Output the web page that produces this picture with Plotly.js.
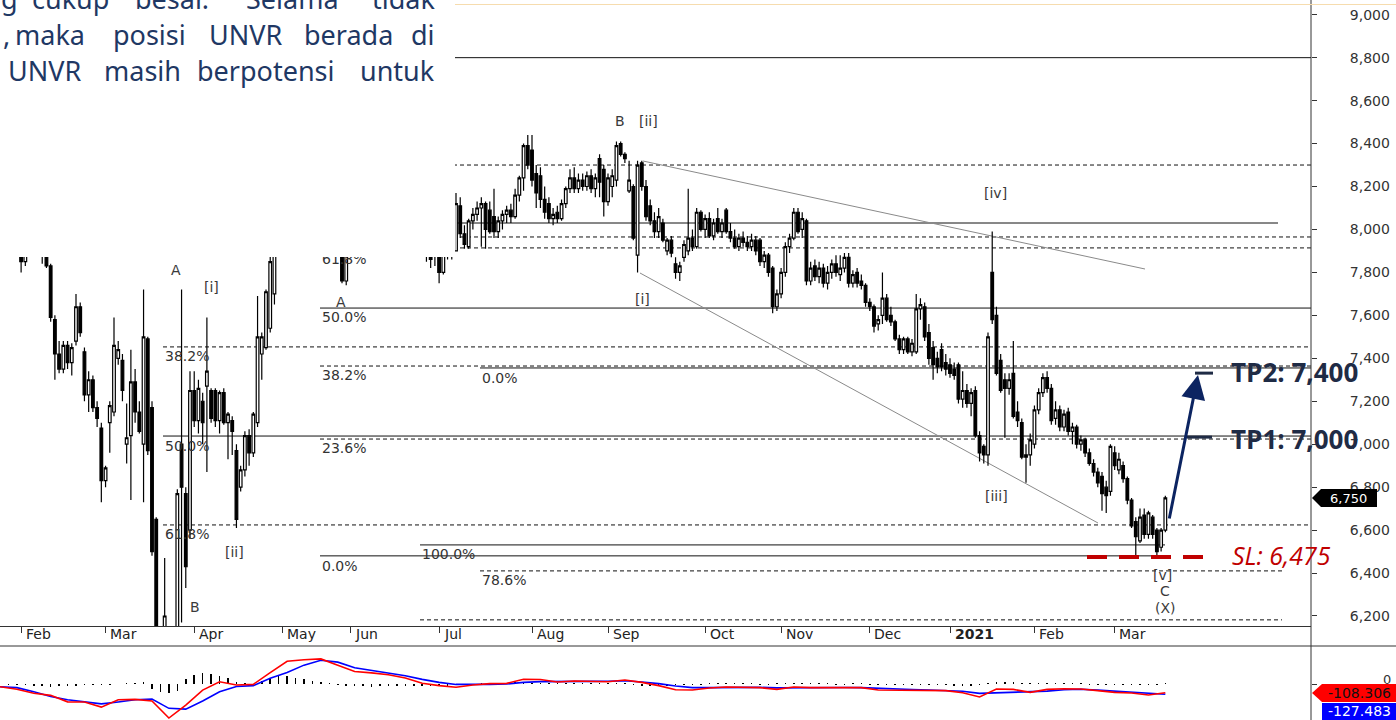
<!DOCTYPE html>
<html><head><meta charset="utf-8">
<script src="https://cdn.plot.ly/plotly-3.0.1.min.js"></script>
<style>html,body{margin:0;padding:0;background:#fff;overflow:hidden}#chart{width:1396px;height:720px}</style>
</head><body><div id="chart"></div>
<script>
// ---------------- DATA ----------------
// daily candles, late Jan 2020 .. mid Mar 2021 (trading-day index order)
const openP = [
 8050,8020,7980,8000,7950,
 7920,7850,7900,7980,7960,7920,7880,7830,7580,7420,7350,7460,7380,7480,7640,7430,7230,7300,7170,7075,
 6830,7100,7150,7400,7390,7000,7040,7290,7150,7000,7490,7170,6650,6000,5950,6100,5950,6000,7000,6770,6600,
 7250,7110,7200,7270,7250,7250,7110,7240,7100,7110,6970,6800,6880,7040,6960,7100,7420,7450,7540,7700,7900,
 8100,8200,8300,8250,8400,8350,8250,8300,8400,8500,8450,8350,8400,8250,8150,7760,
 7980,8050,8100,8150,8200,8100,8050,8150,8200,8250,8150,8100,8000,8050,8100,8000,7950,7920,7950,7900,7920,
 7880,7800,7880,7920,7900,8110,7980,7920,8040,8070,8100,8120,8090,8060,7990,8040,8070,8090,8060,8160,8240,8390,
 8370,8260,8250,8140,8120,8050,8080,8050,8120,8190,8240,8190,8230,8200,8250,8190,8330,8280,
 8130,8200,8230,8400,8350,8180,8200,7880,8310,8200,8110,8040,7990,8030,7900,7950,7840,7800,7870,7900,7960,7920,8080,
 8000,8050,7970,8050,7990,8090,7990,7960,7920,7960,7940,7920,7950,7950,7850,7880,7820,7640,
 7700,7800,7920,7960,8080,8000,8040,7760,7830,7780,7820,7750,7800,7840,7790,7820,7870,7750,7800,7760,7740,
 7660,7640,7560,7600,7680,7600,7570,7490,7440,7490,7430,7430,7630,7640,7520,7450,7400,7440,7380,
 7370,7350,7370,7210,7250,7190,7250,7040,6990,6950,7800,7600,7390,7300,7260,7330,7150,7100,6940,6950,
 7000,7160,7240,7310,7260,7120,7160,7080,7150,7060,7080,7000,7020,6960,6910,6870,6850,6800,6780,
 6960,6880,6900,6840,6740,6640,6550,6670,6580,6660,6600,6520,6600
];
const highP = [
 8100,8080,8050,8060,8000,
 7960,7930,8000,8050,8000,7940,7900,7840,7600,7480,7480,7480,7470,7700,7660,7450,7340,7320,7200,7100,
 6900,7200,7590,7480,7420,7190,7440,7350,7200,7720,7500,7200,6660,6100,6470,6140,6120,6790,7720,6800,7340,
 7340,7300,7240,7590,7260,7260,7250,7260,7150,7130,7000,6900,7060,7070,7150,7690,7520,7720,7950,8050,8150,
 8250,8350,8400,8450,8500,8400,8350,8450,8550,8600,8500,8450,8450,8300,8200,8000,
 8100,8150,8200,8250,8250,8150,8200,8250,8300,8300,8200,8150,8100,8150,8150,8050,8000,7980,7980,7950,7960,
 7900,7900,7950,7940,8170,8150,8020,8050,8100,8130,8150,8130,8130,8190,8060,8090,8110,8120,8190,8250,8400,8440,
 8440,8300,8290,8200,8150,8100,8110,8140,8200,8280,8290,8260,8260,8270,8280,8260,8350,8300,
 8260,8280,8410,8410,8360,8320,8210,8320,8320,8230,8140,8080,8100,8050,7960,7970,7870,7850,7950,8190,8000,8100,8090,
 8070,8080,8050,8100,8050,8100,8030,8000,7980,7990,7970,7980,7970,7960,7900,7890,7830,7720,
 7820,7940,7980,8100,8100,8080,8050,7850,7860,7850,7840,7830,7860,7880,7880,7890,7890,7810,7820,7790,7750,
 7680,7650,7600,7800,7700,7640,7580,7510,7500,7500,7490,7700,7680,7660,7560,7480,7430,7470,7420,
 7400,7380,7380,7340,7280,7260,7270,7060,7000,7520,7990,7640,7420,7330,7330,7480,7200,7120,7000,7050,
 7180,7260,7330,7340,7280,7200,7180,7160,7170,7100,7090,7040,7030,6980,6930,6890,6870,6830,7000,
 6990,6960,6920,6850,6750,6660,6700,6700,6690,6670,6610,6610,6760
];
const lowP = [
 7980,7950,7920,7930,7890,
 7800,7830,7890,7930,7900,7840,7820,7570,7300,7330,7330,7350,7320,7460,7500,7200,7150,7150,7080,6730,
 6800,6960,7130,7370,7200,6910,6740,7100,7050,6730,6950,6480,5950,5800,5900,5900,5850,5980,6170,6330,6560,
 7080,7050,7000,6870,7100,7080,7050,7090,6930,6950,6610,6780,6850,6900,6940,7080,7300,7440,7520,7650,7880,
 8050,8150,8200,8200,8300,8200,8150,8250,8350,8400,8300,8300,8200,8100,7750,7740,
 7950,7980,8050,8100,8050,8000,8000,8100,8150,8100,8050,7950,7920,8000,7980,7900,7880,7880,7850,7820,7830,
 7750,7790,7860,7860,7900,7960,7910,7910,8000,8040,7920,7910,7980,7960,7960,8000,8030,8030,8050,8130,8180,8280,
 8200,8100,8100,8050,8030,8020,8030,8040,8100,8170,8170,8170,8180,8180,8170,8150,8150,8060,
 8110,8150,8200,8340,8310,8170,7950,7800,8180,8040,8020,7960,7960,7940,7880,7870,7770,7760,7850,7880,7900,7910,7990,
 7960,7960,7950,7980,7960,7980,7940,7910,7900,7920,7900,7900,7880,7830,7820,7780,7610,7620,
 7680,7780,7890,7950,7980,7960,7740,7740,7760,7750,7730,7720,7770,7780,7760,7800,7730,7730,7730,7720,7640,
 7620,7520,7530,7560,7570,7550,7480,7420,7420,7420,7410,7420,7580,7480,7370,7300,7330,7340,7320,
 7310,7300,7190,7170,7170,7130,7030,6920,6910,6900,7560,7320,7240,7030,7230,7120,7080,6930,6820,6900,
 6980,7140,7220,7240,7090,7090,7060,7060,7040,7000,6980,6970,6940,6900,6850,6800,6690,6680,6760,
 6880,6860,6820,6720,6610,6480,6540,6560,6560,6560,6475,6500,6590
];
const closeP = [
 8020,7980,8000,7950,7920,
 7850,7900,7980,7960,7920,7880,7830,7590,7420,7350,7460,7380,7450,7640,7520,7230,7300,7170,7120,6830,
 6890,7180,7460,7440,7250,7030,7290,7150,7060,7500,6970,6500,6000,5900,6200,5950,6080,6770,6800,6430,7250,
 7110,7260,7100,7340,7120,7110,7240,7100,7140,7060,6650,6880,7040,6960,7140,7500,7500,7710,7850,7900,8100,
 8200,8300,8250,8400,8350,8250,8300,8400,8500,8450,8350,8400,8250,8150,7760,7980,
 8050,8100,8150,8200,8100,8050,8150,8200,8250,8150,8100,8000,8050,8100,8000,7950,7920,7900,7900,7860,7880,
 7800,7880,7920,7880,8120,7980,7930,8040,8070,8100,8120,8000,7990,7990,8040,8070,8090,8060,8160,8240,8390,8300,
 8230,8170,8140,8080,8050,8070,8050,8120,8190,8240,8190,8230,8200,8250,8190,8240,8220,8130,
 8240,8250,8390,8350,8330,8230,7960,8300,8200,8060,8040,7990,8060,7950,7950,7890,7800,7830,7930,7960,7920,8080,8000,
 8050,7970,8030,7990,8030,7990,7960,7920,7960,7940,7920,7950,7900,7850,7880,7800,7640,7700,
 7800,7920,7960,8080,7990,8050,7760,7820,7780,7820,7750,7800,7840,7800,7820,7870,7750,7790,7750,7740,7660,
 7640,7550,7580,7680,7580,7570,7490,7440,7490,7430,7470,7630,7650,7500,7400,7370,7360,7360,7350,
 7330,7320,7210,7250,7190,7240,7040,6960,6950,7500,7580,7330,7250,7260,7300,7130,7110,6940,6950,7020,
 7160,7240,7310,7260,7110,7160,7080,7140,7060,7080,7000,7020,6960,6910,6870,6820,6770,6760,6990,
 6900,6930,6840,6740,6620,6570,6660,6580,6680,6580,6500,6600,6750
];
// month start positions (trading-day index) and their labels
const monthIdx    = [5,25,46,67,83,104,126,144,167,185,206,225,245,264];
const monthLabels = ['Feb','Mar','Apr','May','Jun','Jul','Aug','Sep','Oct','Nov','Dec','2021','Feb','Mar'];
// MACD (red) and signal (blue), one value every 4 trading days
const macdStep = 4;
const macdLine = [-33,-65,-115,-140,-220,-222,-285,-195,-190,-210,-420,-260,-75,28,-12,-4,140,280,300,310,230,155,138,115,75,10,-20,-40,-12,5,8,58,55,25,37,37,28,49,20,-20,-70,-74,-50,-37,-45,-45,-66,-37,-45,-45,-45,-45,-74,-74,-82,-82,-82,-107,-160,-62,-66,-103,-66,-58,-62,-82,-103,-110,-136,-108];
const signalLine = [-33,-45,-95,-155,-195,-218,-245,-222,-195,-185,-300,-310,-210,-95,-30,-20,70,142,233,293,270,200,165,138,101,57,20,-5,-8,-4,0,20,30,28,30,32,35,41,25,5,-25,-45,-45,-42,-41,-41,-48,-45,-42,-42,-43,-45,-55,-62,-68,-74,-80,-90,-115,-110,-98,-92,-88,-70,-65,-75,-90,-100,-120,-127];
// MACD histogram, one value every 2 trading days
const histStep = 2;
const histVals = [-5,-8,-12,-18,-25,-30,-32,-30,-28,-22,-18,-12,-10,
 -6,5,8,12,25,
 -60,-100,-110,-80,
 60,110,130,120,95,70,
 30,10,5,
 40,80,100,95,80,60,
 40,20,8,-10,
 -25,-30,-30,-32,-30,-30,-30,-28,-25,-25,-22,-20,
 -20,-18,-15,-12,12,14,15,18,20,18,15,12,10,14,15,12,10,12,14,15,14,12,
 -18,-20,-22,-24,-20,-18,-15,-12,-12,12,10,12,14,12,10,-10,-12,10,12,10,12,10,8,10,-10,-12,10,10,-10,
 -12,-14,-12,-14,-12,-12,-12,-14,-16,-20,-24,-28,-15,18,24,24,20,16,14,12,12,14,12,12,10,-10,-12,-14,-14,-16,-16,-14,-14,-12,12];
const priceTicks = [6200,6400,6600,6800,7000,7200,7400,7600,7800,8000,8200,8400,8600,8800,9000];
// Fibonacci / support-resistance levels (price)
const fibLevels = [8800,8300,8030,7965,7914,7634,7453,7364,7355,7038,7024,6624,6531,6480,6410,6182];
// trade plan levels
const slLevel = 6475, tp1Level = 7033, tp2Level = 7331;
const lastClose = 6750, macdLast = -108.306, signalLast = -127.483;

// ---------------- LAYOUT HELPERS ----------------
const W = 1311, H = 720, XMAX = 310.5;
const PX = v => v / W, PY = v => 1 - v / H;
const IDX = px => px / W * XMAX;
const YP = py => 9000 - (py - 14.7) / 0.21475;   // pixel row -> price (for drawn lines)

const fibFromPx = [320,320,320,320,320,320,163,320,480,163,320,163,420,320,480,420];
const fibToPx   = [1311,1311,1278,1311,1311,1311,1311,1311,1311,1311,1311,1311,1165,1160,1282,1282];
const fibDash   = [0,1,0,1,1,0,1,1,0,0,1,1,0,0,1,1];

const shapes = [];
fibLevels.forEach((p, k) => shapes.push({type:'line', xref:'x', yref:'y', layer:'below',
  x0: IDX(fibFromPx[k]), x1: IDX(fibToPx[k]), y0: p, y1: p,
  line:{color:'#111', width:1, dash: fibDash[k] ? '4px,3px' : 'solid'}}));
// channel lines
shapes.push({type:'line', xref:'x', yref:'y', layer:'below', x0:IDX(643), y0:YP(161), x1:IDX(1145), y1:YP(269), line:{color:'#8a8a8a', width:1}});
shapes.push({type:'line', xref:'x', yref:'y', layer:'below', x0:IDX(640), y0:YP(273), x1:IDX(1098), y1:YP(523), line:{color:'#8a8a8a', width:1}});
// SL / TP marks
shapes.push({type:'line', xref:'x', yref:'y', x0:IDX(1087), x1:IDX(1213), y0:slLevel, y1:slLevel, line:{color:'#c00000', width:4, dash:'20px,12px'}});
shapes.push({type:'line', xref:'x', yref:'y', x0:IDX(1195), x1:IDX(1213), y0:tp2Level, y1:tp2Level, line:{color:'#1f2b45', width:3}});
shapes.push({type:'line', xref:'x', yref:'y', x0:IDX(1187), x1:IDX(1212), y0:tp1Level, y1:tp1Level, line:{color:'#1f2b45', width:3}});
// frame lines
shapes.push({type:'line', xref:'paper', yref:'paper', x0:1, x1:1, y0:0, y1:1, line:{color:'#333', width:1}});
shapes.push({type:'line', xref:'paper', yref:'paper', x0:0, x1:PX(1396), y0:PY(646), y1:PY(646), line:{color:'#333', width:1}});
shapes.push({type:'line', xref:'paper', yref:'paper', x0:PX(455), x1:PX(1396), y0:PY(4.5), y1:PY(4.5), line:{color:'#f6dcae', width:1}});
// value tags
function tag(tipX, bx0, bx1, y0, y1, withTip) {
  const ym = (y0 + y1) / 2;
  let d = withTip ? `M ${PX(tipX)} ${PY(ym)} L ${PX(bx0)} ${PY(y0)}` : `M ${PX(bx0)} ${PY(y0)}`;
  d += ` L ${PX(bx1)} ${PY(y0)} L ${PX(bx1)} ${PY(y1)} L ${PX(bx0)} ${PY(y1)} Z`;
  return d;
}
shapes.push({type:'path', xref:'paper', yref:'paper', path: tag(1312,1321,1377,489,507,true), fillcolor:'#000', line:{width:0}});
shapes.push({type:'path', xref:'paper', yref:'paper', path: tag(1312,1322,1396,684,702,true), fillcolor:'#ff0000', line:{width:0}});
shapes.push({type:'path', xref:'paper', yref:'paper', path: tag(1322,1322,1396,703,720,false), fillcolor:'#0000ff', line:{width:0}});

// ---------------- ANNOTATIONS ----------------
const annotations = [];
const FS = {family:'DejaVu Sans', size:14, color:'#333'};
const A = (text, x, y, o) => annotations.push(Object.assign({text, x:PX(x), y:PY(y), xref:'paper', yref:'paper',
  showarrow:false, xanchor:'center', yanchor:'middle', font:FS}, o || {}));

// fib label partly hidden under the text box
A('61.8%', 320, 259, {xanchor:'left'});
// white text box (top-left)
annotations.push({text:' ', x:0, y:1, xref:'paper', yref:'paper', xanchor:'left', yanchor:'top', width:455, height:257,
  bgcolor:'#ffffff', borderpad:0, borderwidth:0, showarrow:false});
// top text (justified paragraph fragment)
const TF = {family:'Noto Sans', size:27, color:'#1f3864'};
[['g',-1,'left'],['cukup',70,'center'],['besar.',172,'center'],['Selama',292,'center'],['tidak',437,'right']]
  .forEach(w => A(w[0], w[1], -2, {xanchor:w[2], font:TF}));
[[',',1,'left'],['maka',50,'center'],['posisi',149,'center'],['UNVR',245,'center'],['berada',349,'center'],['di',437,'right']]
  .forEach(w => A(w[0], w[1], 34, {xanchor:w[2], font:TF}));
[['UNVR',6,'left'],['masih',142,'center'],['berpotensi',265,'center'],['untuk',437,'right']]
  .forEach(w => A(w[0], w[1], 71, {xanchor:w[2], font:TF}));

// fib labels
[['38.2%',163,356],['50.0%',163,446],['61.8%',163,534],['50.0%',320,317],['38.2%',320,375],['23.6%',320,448],
 ['0.0%',320,566],['0.0%',480,378],['100.0%',420,554],['78.6%',480,580]].forEach(l => A(l[0], l[1], l[2], {xanchor:'left'}));
// wave labels
const WF = {family:'DejaVu Sans', size:14, color:'#3a3a3a'};
[['A',176,270],['[i]',211,287],['[ii]',234,552],['B',195,607],['A',341,302],['B',620,121],['[ii]',648,121],
 ['[i]',642,299],['[iv]',995,193],['[iii]',996,496],['[v]',1162,575],['C',1165,591],['(X)',1165,608]]
  .forEach(l => A(l[0], l[1], l[2], {font:WF}));
// month labels
monthIdx.forEach((m, k) => annotations.push({text: monthLabels[k], x: m + 0.6, y: PY(634), xref:'x', yref:'paper',
  showarrow:false, xanchor:'left', yanchor:'middle',
  font:{family:'DejaVu Sans', size:14, color:'#222', weight: monthLabels[k] === '2021' ? 'bold' : 'normal'}}));
// trade plan texts
A('TP2: 7,400', 1229, 372, {xanchor:'left', font:{family:'Open Sans', size:26, color:'#1f2b45', weight:'bold'}});
A('TP1: 7,000', 1229, 439, {xanchor:'left', font:{family:'Open Sans', size:26, color:'#1f2b45', weight:'bold'}});
A('SL: 6,475', 1230, 555, {xanchor:'left', font:{family:'Open Sans', size:25, color:'#c00000', style:'italic'}});
// arrow
annotations.push({text:'', x:IDX(1198), y:YP(375), ax:IDX(1169), ay:YP(520), xref:'x', yref:'y', axref:'x', ayref:'y',
  showarrow:true, arrowhead:2, arrowsize:1.6, arrowwidth:3, arrowcolor:'#0c2461', standoff:0, startstandoff:0});
// value tags text
A('6,750', 1349, 498, {font:{family:'DejaVu Sans', size:13, color:'#fff'}});
A('0', 1387, 679, {font:{family:'DejaVu Sans', size:13, color:'#333'}});
A(macdLast.toFixed(3), 1359, 693, {font:{family:'DejaVu Sans', size:14, color:'#111'}});
A(signalLast.toFixed(3), 1359, 711, {font:{family:'DejaVu Sans', size:14, color:'#fff'}});

// ---------------- TRACES ----------------
const traces = [
  {type:'candlestick', open:openP, high:highP, low:lowP, close:closeP, xaxis:'x', yaxis:'y', hoverinfo:'skip',
   whiskerwidth:0,
   increasing:{line:{color:'#000', width:1.2}, fillcolor:'#ffffff'},
   decreasing:{line:{color:'#000', width:1.2}, fillcolor:'#000000'}},
  {type:'bar', x: histVals.map((_, k) => k * histStep), y: histVals, xaxis:'x2', yaxis:'y2', width:0.35,
   marker:{color:'#000', line:{width:0}}, hoverinfo:'skip'},
  {type:'scatter', mode:'lines', x: signalLine.map((_, k) => k * macdStep), y: signalLine, xaxis:'x2', yaxis:'y2',
   line:{color:'#0000ff', width:1.6}, hoverinfo:'skip'},
  {type:'scatter', mode:'lines', x: macdLine.map((_, k) => k * macdStep), y: macdLine, xaxis:'x2', yaxis:'y2',
   line:{color:'#ff0000', width:1.6}, hoverinfo:'skip'}
];

const layout = {
  width:1396, height:720, margin:{l:0, r:85, t:0, b:0}, paper_bgcolor:'#fff', plot_bgcolor:'rgba(0,0,0,0)',
  showlegend:false, separators:'.,', boxgap:0.1, bargap:0,
  font:{family:'DejaVu Sans', size:14, color:'#333'},
  xaxis:{domain:[0,1], range:[0, XMAX], anchor:'y', showgrid:false, zeroline:false, showline:true, linecolor:'#333', linewidth:1,
    tickvals: monthIdx, ticks:'outside', ticklen:6, tickcolor:'#333', showticklabels:false, rangeslider:{visible:false}, fixedrange:true},
  yaxis:{domain:[1 - 626/720, 1], range:[6153.4, 9068.5], side:'right', anchor:'x', showgrid:false, zeroline:false, showline:false,
    tickvals: priceTicks, tickformat:',d', ticks:'outside', ticklen:5, tickcolor:'#333',
    tickfont:{family:'DejaVu Sans', size:14, color:'#333'}, ticklabelstandoff:30, fixedrange:true},
  xaxis2:{domain:[0,1], anchor:'y2', matches:'x', showgrid:false, zeroline:false, showline:false, showticklabels:false, ticks:''},
  yaxis2:{domain:[0, 74/720], range:[-444, 469], side:'right', anchor:'x2', showgrid:false, zeroline:false, showline:false,
    tickvals:[0], ticks:'outside', ticklen:5, tickcolor:'#333', showticklabels:false},
  shapes, annotations
};
Plotly.newPlot('chart', traces, layout, {displayModeBar:false, staticPlot:true});
</script></body></html>
